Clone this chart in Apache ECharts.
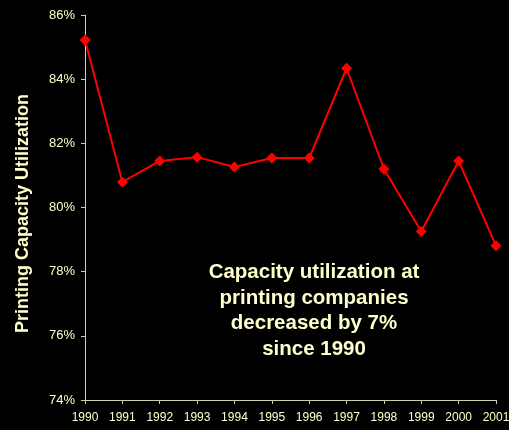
<!DOCTYPE html>
<html>
<head>
<meta charset="utf-8">
<script src="https://cdn.jsdelivr.net/npm/echarts@6/dist/echarts.min.js"></script>
<style>
  html, body { margin: 0; padding: 0; background: #000; }
  #chart { width: 509px; height: 430px; }
</style>
</head>
<body>
<div id="chart"></div>
<script>
var years = ['1990', '1991', '1992', '1993', '1994', '1995', '1996', '1997', '1998', '1999', '2000', '2001'];
var utilization = [85.22, 80.79, 81.45, 81.57, 81.26, 81.54, 81.54, 84.34, 81.2, 79.25, 81.45, 78.81];
var noteLines = ['Capacity utilization at', 'printing companies', 'decreased by 7%', 'since 1990'];

var cream = '#ffffcc';
var axisCol = '#d0d0a8';

var chart = echarts.init(document.getElementById('chart'));
var option = {
  backgroundColor: '#000',
  textStyle: { fontFamily: 'Liberation Sans, Arial, sans-serif' },
  grid: { left: 85, right: 13, top: 15, bottom: 30, outerBoundsMode: 'none' },
  graphic: [{
    type: 'text',
    x: 314,
    y: 260,
    style: {
      text: noteLines.join('\n'),
      textAlign: 'center',
      fill: cream,
      font: 'bold 20.5px Liberation Sans, Arial, sans-serif',
      lineHeight: 25.5
    }
  }],
  xAxis: {
    type: 'category',
    data: years,
    boundaryGap: false,
    axisLine: { lineStyle: { color: axisCol, width: 1 } },
    axisTick: { alignWithLabel: true, length: 4, lineStyle: { color: axisCol } },
    axisLabel: { color: cream, fontSize: 12, margin: 12, interval: 0 }
  },
  yAxis: {
    type: 'value',
    min: 74,
    max: 86,
    interval: 2,
    name: 'Printing Capacity Utilization',
    nameLocation: 'middle',
    nameGap: 53,
    nameTextStyle: { color: cream, fontSize: 18, fontWeight: 'bold', padding: [0, 0, 0, -12] },
    axisLine: { show: true, lineStyle: { color: axisCol, width: 1 } },
    axisTick: { show: true, length: 4, lineStyle: { color: axisCol } },
    axisLabel: { color: cream, fontSize: 13, margin: 10, formatter: '{value}%' },
    splitLine: { show: false }
  },
  series: [{
    type: 'line',
    data: utilization,
    symbol: 'diamond',
    symbolSize: 11,
    itemStyle: { color: '#ff0000' },
    lineStyle: { color: '#ff0000', width: 2 }
  }]
};
chart.setOption(option);
</script>
</body>
</html>
